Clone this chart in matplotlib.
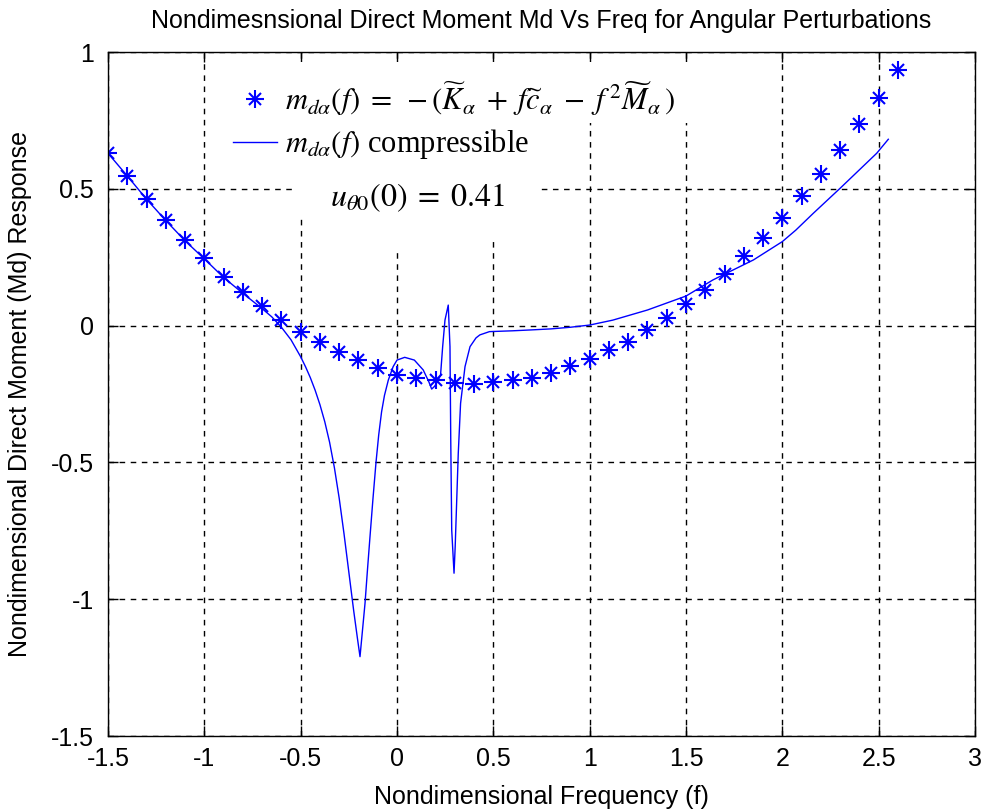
import numpy as np
import matplotlib
matplotlib.use("Agg")
import matplotlib.pyplot as plt
from matplotlib.patches import Rectangle
from matplotlib.legend_handler import HandlerTuple

plt.rcParams['mathtext.fontset'] = 'stix'
plt.rcParams['axes.unicode_minus'] = False
plt.rcParams['font.family'] = ['Liberation Sans', 'DejaVu Sans']

# ---- data ----
star_f = [-1.5, -1.4, -1.3, -1.2, -1.1, -1.0, -0.9, -0.8, -0.7, -0.6, -0.5, -0.4,
          -0.3, -0.2, -0.1, 0.0, 0.1, 0.2, 0.3, 0.4, 0.5, 0.6, 0.7, 0.8, 0.9, 1.0,
          1.1, 1.2, 1.3, 1.4, 1.5, 1.6, 1.7, 1.8, 1.9, 2.0, 2.1, 2.2, 2.3, 2.4, 2.5, 2.6]
star_m = [0.630, 0.547, 0.462, 0.386, 0.313, 0.248, 0.179, 0.124, 0.072, 0.020, -0.025, -0.061,
          -0.098, -0.126, -0.156, -0.181, -0.193, -0.199, -0.208, -0.215, -0.207, -0.199, -0.190,
          -0.172, -0.148, -0.123, -0.089, -0.060, -0.016, 0.028, 0.078, 0.131, 0.187, 0.254,
          0.319, 0.392, 0.474, 0.553, 0.642, 0.736, 0.831, 0.934]

comp_f = [-1.5, -1.4, -1.3, -1.2, -1.1, -1.0, -0.9, -0.8, -0.7, -0.65, -0.6, -0.55, -0.5,
          -0.475, -0.45, -0.425, -0.4, -0.375, -0.35, -0.325, -0.3, -0.275, -0.25, -0.225,
          -0.205, -0.192, -0.18, -0.166, -0.153, -0.14, -0.125, -0.109, -0.095, -0.08, -0.065,
          -0.045, -0.02, 0.0, 0.04, 0.09, 0.136, 0.165, 0.18, 0.195, 0.21,
          0.226, 0.237, 0.249, 0.266, 0.275, 0.279, 0.284, 0.296, 0.302, 0.318, 0.33, 0.353,
          0.379, 0.41, 0.43, 0.48, 0.6, 0.69, 0.8, 0.9, 1.0, 1.12, 1.3, 1.5, 1.64, 1.85, 2.0,
          2.07, 2.16, 2.30, 2.49, 2.55]
comp_m = [0.630, 0.547, 0.462, 0.384, 0.310, 0.244, 0.176, 0.118, 0.062, 0.032, -0.006, -0.052,
          -0.114, -0.150, -0.190, -0.236, -0.289, -0.351, -0.426, -0.519, -0.631, -0.761, -0.901,
          -1.041, -1.145, -1.210, -1.120, -1.015, -0.890, -0.770, -0.635, -0.500, -0.400, -0.315,
          -0.255, -0.199, -0.150, -0.126, -0.116, -0.126, -0.162, -0.205, -0.232,
          -0.222, -0.205, -0.181, -0.077, 0.020, 0.075, -0.077, -0.418, -0.747, -0.905, -0.808,
          -0.467, -0.284, -0.150, -0.077, -0.045, -0.034, -0.022, -0.019, -0.016, -0.012, -0.006,
          0.002, 0.020, 0.057, 0.108, 0.167, 0.240, 0.307, 0.349, 0.410, 0.502, 0.630, 0.681]

x_ticks = [-1.5, -1, -0.5, 0, 0.5, 1, 1.5, 2, 2.5, 3]
x_ticklabels = ['-1.5', '-1', '-0.5', '0', '0.5', '1', '1.5', '2', '2.5', '3']
y_ticks = [-1.5, -1, -0.5, 0, 0.5, 1]
y_ticklabels = ['-1.5', '-1', '-0.5', '0', '0.5', '1']

title = 'Nondimesnsional Direct Moment Md Vs Freq for Angular Perturbations'
xlabel = 'Nondimensional Frequency (f)'
ylabel = 'Nondimensional Direct Moment (Md) Response'
label_star = (r'$m_{d\alpha}(f)\;=\;-(\widetilde{K}_\alpha\;+\;f\widetilde{c}_\alpha'
              r'\;-\;f^{\,2}\widetilde{M}_\alpha\,)$')
label_line = r'$m_{d\alpha}(f)$ compressible'
note = r'$u_{\theta 0}(0)\;=\;0.41$'

# ---- figure ----
fig = plt.figure(figsize=(9.85, 8.11), dpi=100)
ax = fig.add_axes([108/985, 75/811, 867/985, 684/811])

ax.set_xlim(-1.5, 3)
ax.set_ylim(-1.5, 1)
ax.set_axisbelow(True)
ax.grid(True, color='black', linestyle=(0, (4, 4)), linewidth=1.0)

# white backgrounds of legend / annotation boxes (cover the grid)
for (x0, y0, x1, y1) in [(-0.945, 0.74, 1.73, 0.965),
                         (-0.545, 0.404, 0.731, 0.74),
                         (-0.2, 0.269, 0.25, 0.404),
                         (0.25, 0.313, 0.731, 0.404)]:
    ax.add_patch(Rectangle((x0, y0), x1 - x0, y1 - y0, facecolor='white',
                           edgecolor='none', zorder=1))

plus_h, = ax.plot(star_f, star_m, linestyle='none', marker='+', markersize=12.5,
                  markeredgewidth=1.5, color='#0000ff', zorder=3)
x_h, = ax.plot(star_f, star_m, linestyle='none', marker='x', markersize=8.5,
               markeredgewidth=1.5, color='#0000ff', zorder=3)
line_h, = ax.plot(comp_f, comp_m, color='#0000ff', linewidth=1.0, zorder=2)

ax.set_xticks(x_ticks)
ax.set_xticklabels(x_ticklabels)
ax.set_yticks(y_ticks)
ax.set_yticklabels(y_ticklabels)
ax.tick_params(direction='in', length=7, width=1, top=True, right=True,
               labelsize=18, colors='black')
ax.tick_params(axis='x', pad=8)
ax.tick_params(axis='y', pad=10)
for s in ax.spines.values():
    s.set_linewidth(1.0)
    s.set_zorder(5)

ax.set_title(title, fontsize=18, pad=17)
ax.set_xlabel(xlabel, fontsize=18, labelpad=10)
ax.set_ylabel(ylabel, fontsize=18, labelpad=14)

leg = ax.legend([(plus_h, x_h), line_h], [label_star, label_line],
                handler_map={tuple: HandlerTuple(ndivide=1, pad=0)},
                loc='upper left', bbox_to_anchor=(0.144, 0.96), frameon=False,
                prop={'family': 'Liberation Serif', 'size': 22},
                handlelength=1.45, handletextpad=0.25, borderpad=0, borderaxespad=0,
                labelspacing=0.3, numpoints=1)
leg.set_zorder(4)

ax.text(-0.348, 0.466, note, fontsize=23, ha='left', va='center', zorder=4)

fig.savefig('out.png', dpi=100)
